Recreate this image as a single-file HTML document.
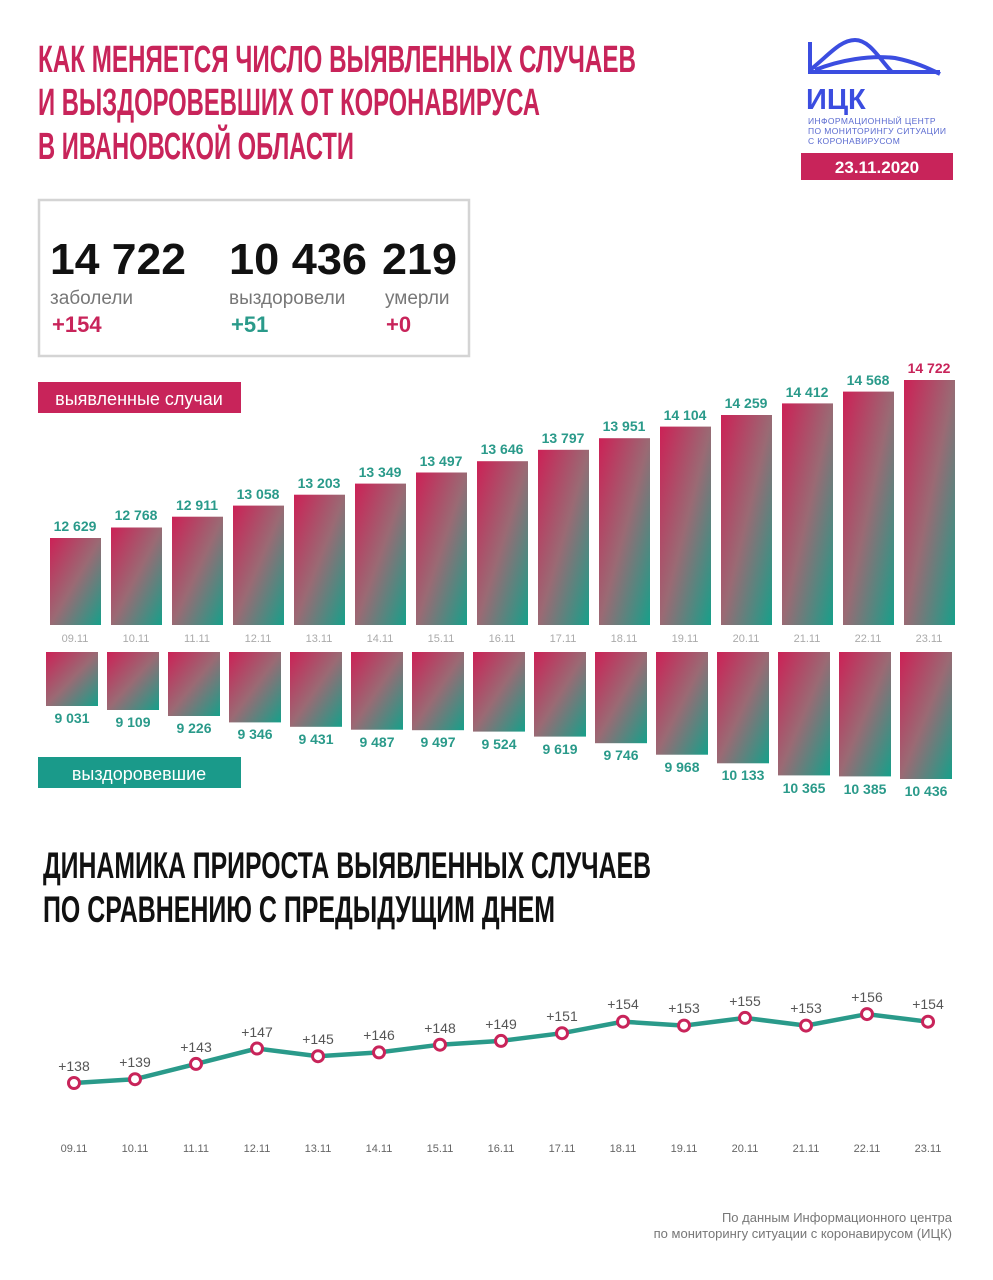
<!DOCTYPE html>
<html><head><meta charset="utf-8"><style>
body{margin:0;background:#fff}
svg{display:block}
</style></head><body>
<svg width="993" height="1280" viewBox="0 0 993 1280" xmlns="http://www.w3.org/2000/svg" font-family="Liberation Sans, sans-serif">
<defs>
<linearGradient id="g" x1="0" y1="0" x2="1" y2="1">
<stop offset="0" stop-color="#cc2156"/><stop offset="0.5" stop-color="#9a6a74"/><stop offset="1" stop-color="#16a08a"/>
</linearGradient>
</defs>
<rect width="993" height="1280" fill="#fff"/>
<g font-family="Liberation Sans Narrow, Liberation Sans, sans-serif" font-weight="bold" fill="#c8245a" font-size="38">
<text x="38" y="72" textLength="598" lengthAdjust="spacingAndGlyphs">КАК МЕНЯЕТСЯ ЧИСЛО ВЫЯВЛЕННЫХ СЛУЧАЕВ</text>
<text x="38" y="115" textLength="502" lengthAdjust="spacingAndGlyphs">И ВЫЗДОРОВЕВШИХ ОТ КОРОНАВИРУСА</text>
<text x="38" y="159" textLength="316" lengthAdjust="spacingAndGlyphs">В ИВАНОВСКОЙ ОБЛАСТИ</text>
</g>
<!-- logo -->
<g stroke="#3b4de0" stroke-width="4" fill="none">
<path d="M810 42 V72 H940"/>
<path d="M810 70 C828 56 840 40 855 40 C870 40 880 60 892 72"/>
<path d="M815 70 C840 60 870 55 895 58 C915 62 928 68 940 74"/>
</g>
<text x="806" y="109" font-size="29" font-weight="bold" fill="#3b4de0">ИЦК</text>
<g font-size="8.5" fill="#5a6ad0" letter-spacing="0.4">
<text x="808" y="124">ИНФОРМАЦИОННЫЙ ЦЕНТР</text>
<text x="808" y="134">ПО МОНИТОРИНГУ СИТУАЦИИ</text>
<text x="808" y="144">С КОРОНАВИРУСОМ</text>
</g>
<rect x="801" y="153" width="152" height="27" fill="#c8245a"/>
<text x="877" y="173" font-size="17" font-weight="bold" fill="#fff" text-anchor="middle">23.11.2020</text>
<!-- stats -->
<rect x="39" y="200" width="430" height="156" fill="none" stroke="#d4d4d4" stroke-width="2.5"/>
<g font-size="44" font-weight="bold" fill="#111">
<text x="50" y="274" textLength="136" lengthAdjust="spacingAndGlyphs">14 722</text><text x="229" y="274" textLength="138" lengthAdjust="spacingAndGlyphs">10 436</text><text x="382" y="274" textLength="75" lengthAdjust="spacingAndGlyphs">219</text>
</g>
<g font-size="19" fill="#777">
<text x="50" y="304">заболели</text><text x="229" y="304">выздоровели</text><text x="385" y="304">умерли</text>
</g>
<g font-size="22" font-weight="bold">
<text x="52" y="332" fill="#c8245a">+154</text><text x="231" y="332" fill="#2a9a8a">+51</text><text x="386" y="332" fill="#c8245a">+0</text>
</g>
<rect x="38" y="382" width="203" height="31" fill="#c8245a"/>
<text x="139" y="405" font-size="18" fill="#fff" text-anchor="middle">выявленные случаи</text>
<rect x="38" y="757" width="203" height="31" fill="#1a9a8a"/>
<text x="139" y="780" font-size="18" fill="#fff" text-anchor="middle">выздоровевшие</text>
<g font-size="14" font-weight="bold" fill="#2a9a8a" text-anchor="middle">
<rect x="50" y="538" width="51" height="87" fill="url(#g)"/><text x="75" y="531">12 629</text>
<rect x="111" y="527.5" width="51" height="97.5" fill="url(#g)"/><text x="136" y="520">12 768</text>
<rect x="172" y="516.7" width="51" height="108.3" fill="url(#g)"/><text x="197" y="510">12 911</text>
<rect x="233" y="505.6" width="51" height="119.4" fill="url(#g)"/><text x="258" y="499">13 058</text>
<rect x="294" y="494.7" width="51" height="130.3" fill="url(#g)"/><text x="319" y="488">13 203</text>
<rect x="355" y="483.6" width="51" height="141.4" fill="url(#g)"/><text x="380" y="477">13 349</text>
<rect x="416" y="472.5" width="51" height="152.5" fill="url(#g)"/><text x="441" y="466">13 497</text>
<rect x="477" y="461.2" width="51" height="163.8" fill="url(#g)"/><text x="502" y="454">13 646</text>
<rect x="538" y="449.8" width="51" height="175.2" fill="url(#g)"/><text x="563" y="443">13 797</text>
<rect x="599" y="438.2" width="51" height="186.8" fill="url(#g)"/><text x="624" y="431">13 951</text>
<rect x="660" y="426.6" width="51" height="198.4" fill="url(#g)"/><text x="685" y="420">14 104</text>
<rect x="721" y="415" width="51" height="210" fill="url(#g)"/><text x="746" y="408">14 259</text>
<rect x="782" y="403.4" width="51" height="221.6" fill="url(#g)"/><text x="807" y="397">14 412</text>
<rect x="843" y="391.6" width="51" height="233.4" fill="url(#g)"/><text x="868" y="385">14 568</text>
<rect x="904" y="380" width="51" height="245" fill="url(#g)"/><text x="929" y="373" fill="#c8245a">14 722</text>
</g>
<g font-size="11" fill="#aaa" text-anchor="middle">
<text x="75" y="642">09.11</text><text x="136" y="642">10.11</text><text x="197" y="642">11.11</text><text x="258" y="642">12.11</text><text x="319" y="642">13.11</text><text x="380" y="642">14.11</text><text x="441" y="642">15.11</text><text x="502" y="642">16.11</text><text x="563" y="642">17.11</text><text x="624" y="642">18.11</text><text x="685" y="642">19.11</text><text x="746" y="642">20.11</text><text x="807" y="642">21.11</text><text x="868" y="642">22.11</text><text x="929" y="642">23.11</text>
</g>
<g font-size="14" font-weight="bold" fill="#2a9a8a" text-anchor="middle">
<rect x="46" y="652" width="52" height="54" fill="url(#g)"/><text x="72" y="723">9 031</text>
<rect x="107" y="652" width="52" height="58" fill="url(#g)"/><text x="133" y="727">9 109</text>
<rect x="168" y="652" width="52" height="64" fill="url(#g)"/><text x="194" y="733">9 226</text>
<rect x="229" y="652" width="52" height="70.4" fill="url(#g)"/><text x="255" y="739">9 346</text>
<rect x="290" y="652" width="52" height="74.8" fill="url(#g)"/><text x="316" y="744">9 431</text>
<rect x="351" y="652" width="52" height="77.7" fill="url(#g)"/><text x="377" y="747">9 487</text>
<rect x="412" y="652" width="52" height="78.2" fill="url(#g)"/><text x="438" y="747">9 497</text>
<rect x="473" y="652" width="52" height="79.6" fill="url(#g)"/><text x="499" y="749">9 524</text>
<rect x="534" y="652" width="52" height="84.6" fill="url(#g)"/><text x="560" y="754">9 619</text>
<rect x="595" y="652" width="52" height="91.2" fill="url(#g)"/><text x="621" y="760">9 746</text>
<rect x="656" y="652" width="52" height="102.7" fill="url(#g)"/><text x="682" y="772">9 968</text>
<rect x="717" y="652" width="52" height="111.3" fill="url(#g)"/><text x="743" y="780">10 133</text>
<rect x="778" y="652" width="52" height="123.4" fill="url(#g)"/><text x="804" y="793">10 365</text>
<rect x="839" y="652" width="52" height="124.4" fill="url(#g)"/><text x="865" y="794">10 385</text>
<rect x="900" y="652" width="52" height="127" fill="url(#g)"/><text x="926" y="796">10 436</text>
</g>
<g font-family="Liberation Sans Narrow, Liberation Sans, sans-serif" font-weight="bold" fill="#111" font-size="37">
<text x="43" y="878" textLength="608" lengthAdjust="spacingAndGlyphs">ДИНАМИКА ПРИРОСТА ВЫЯВЛЕННЫХ СЛУЧАЕВ</text>
<text x="43" y="922" textLength="512" lengthAdjust="spacingAndGlyphs">ПО СРАВНЕНИЮ С ПРЕДЫДУЩИМ ДНЕМ</text>
</g>
<polyline fill="none" stroke="#2a9a8a" stroke-width="4.5" points="74,1083 135,1079.2 196,1063.9 257,1048.5 318,1056.2 379,1052.4 440,1044.7 501,1040.9 562,1033.2 623,1021.7 684,1025.6 745,1017.9 806,1025.6 867,1014.1 928,1021.7"/>
<g fill="#fff" stroke="#c8245a" stroke-width="3">
<circle cx="74" cy="1083" r="5.5"/><circle cx="135" cy="1079.2" r="5.5"/><circle cx="196" cy="1063.9" r="5.5"/><circle cx="257" cy="1048.5" r="5.5"/><circle cx="318" cy="1056.2" r="5.5"/><circle cx="379" cy="1052.4" r="5.5"/><circle cx="440" cy="1044.7" r="5.5"/><circle cx="501" cy="1040.9" r="5.5"/><circle cx="562" cy="1033.2" r="5.5"/><circle cx="623" cy="1021.7" r="5.5"/><circle cx="684" cy="1025.6" r="5.5"/><circle cx="745" cy="1017.9" r="5.5"/><circle cx="806" cy="1025.6" r="5.5"/><circle cx="867" cy="1014.1" r="5.5"/><circle cx="928" cy="1021.7" r="5.5"/>
</g>
<g font-size="14" fill="#555" text-anchor="middle">
<text x="74" y="1071">+138</text><text x="135" y="1067">+139</text><text x="196" y="1052">+143</text><text x="257" y="1037">+147</text><text x="318" y="1044">+145</text><text x="379" y="1040">+146</text><text x="440" y="1033">+148</text><text x="501" y="1029">+149</text><text x="562" y="1021">+151</text><text x="623" y="1009">+154</text><text x="684" y="1013">+153</text><text x="745" y="1006">+155</text><text x="806" y="1013">+153</text><text x="867" y="1002">+156</text><text x="928" y="1009">+154</text>
</g>
<g font-size="11" fill="#666" text-anchor="middle">
<text x="74" y="1152">09.11</text><text x="135" y="1152">10.11</text><text x="196" y="1152">11.11</text><text x="257" y="1152">12.11</text><text x="318" y="1152">13.11</text><text x="379" y="1152">14.11</text><text x="440" y="1152">15.11</text><text x="501" y="1152">16.11</text><text x="562" y="1152">17.11</text><text x="623" y="1152">18.11</text><text x="684" y="1152">19.11</text><text x="745" y="1152">20.11</text><text x="806" y="1152">21.11</text><text x="867" y="1152">22.11</text><text x="928" y="1152">23.11</text>
</g>
<g font-size="13" fill="#777" text-anchor="end">
<text x="952" y="1222">По данным Информационного центра</text>
<text x="952" y="1238">по мониторингу ситуации с коронавирусом (ИЦК)</text>
</g>
</svg>
</body></html>
